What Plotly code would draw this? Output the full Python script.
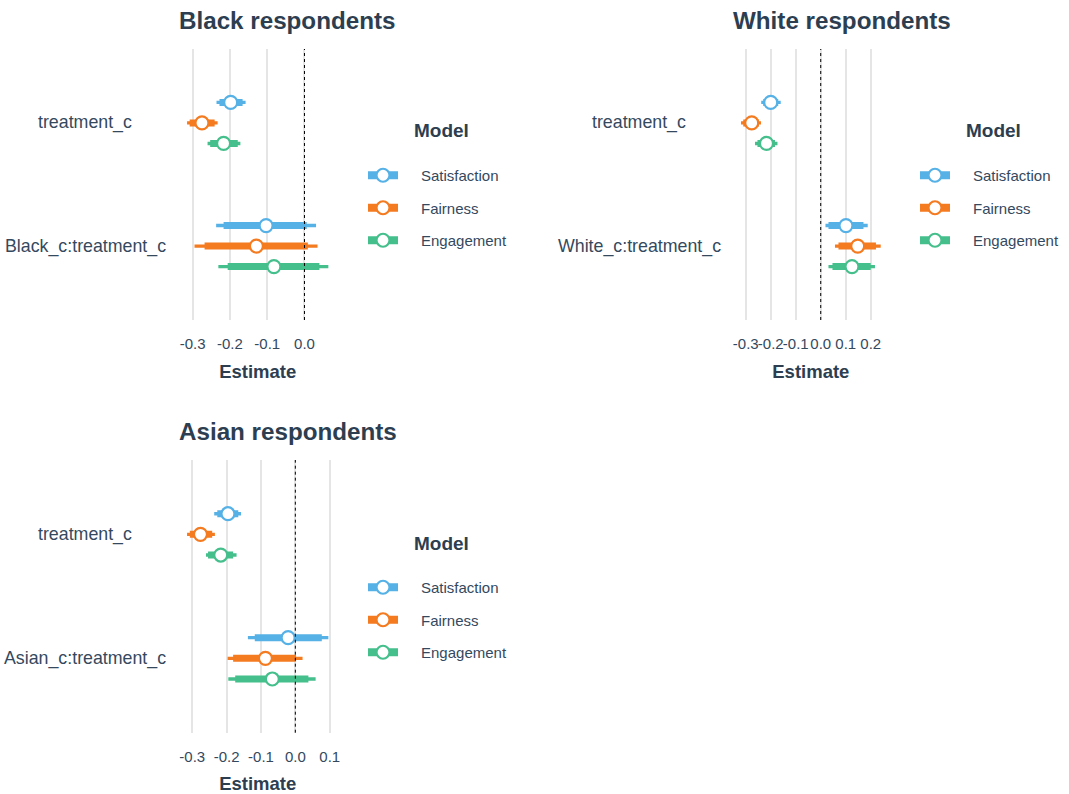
import plotly.graph_objects as go

# Models and their colours
models = ["Satisfaction", "Fairness", "Engagement"]
colors = ["#56B1E6", "#F47B20", "#45BF8C"]

# Term order within each panel: [treatment_c, <group>_c:treatment_c]
# Values listed per model in the order of `models`.

# Black respondents
black_est_treat = [-0.198, -0.275, -0.217]
black_lo95_treat = [-0.236, -0.315, -0.260]
black_hi95_treat = [-0.158, -0.233, -0.172]
black_lo90_treat = [-0.228, -0.308, -0.253]
black_hi90_treat = [-0.166, -0.241, -0.179]
black_est_inter = [-0.103, -0.129, -0.082]
black_lo95_inter = [-0.237, -0.295, -0.231]
black_hi95_inter = [0.031, 0.035, 0.064]
black_lo90_inter = [-0.217, -0.268, -0.206]
black_hi90_inter = [0.006, 0.009, 0.040]
black_ticks = [-0.3, -0.2, -0.1, 0.0]

# White respondents
white_est_treat = [-0.200, -0.276, -0.217]
white_lo95_treat = [-0.238, -0.319, -0.263]
white_hi95_treat = [-0.160, -0.239, -0.173]
white_lo90_treat = [-0.230, -0.310, -0.253]
white_hi90_treat = [-0.170, -0.247, -0.183]
white_est_inter = [0.101, 0.148, 0.125]
white_lo95_inter = [0.019, 0.057, 0.031]
white_hi95_inter = [0.188, 0.240, 0.217]
white_lo90_inter = [0.031, 0.071, 0.047]
white_hi90_inter = [0.171, 0.221, 0.200]
white_ticks = [-0.3, -0.2, -0.1, 0.0, 0.1, 0.2]

# Asian respondents
asian_est_treat = [-0.196, -0.276, -0.217]
asian_lo95_treat = [-0.236, -0.315, -0.260]
asian_hi95_treat = [-0.158, -0.234, -0.171]
asian_lo90_treat = [-0.227, -0.307, -0.254]
asian_hi90_treat = [-0.166, -0.242, -0.181]
asian_est_inter = [-0.021, -0.087, -0.067]
asian_lo95_inter = [-0.138, -0.197, -0.195]
asian_hi95_inter = [0.096, 0.021, 0.059]
asian_lo90_inter = [-0.118, -0.181, -0.175]
asian_hi90_inter = [0.077, 0.002, 0.038]
asian_ticks = [-0.3, -0.2, -0.1, 0.0, 0.1]

panels = [
    dict(title="Black respondents", term="Black_c:treatment_c", ticks=black_ticks,
         est=(black_est_treat, black_est_inter),
         lo95=(black_lo95_treat, black_lo95_inter), hi95=(black_hi95_treat, black_hi95_inter),
         lo90=(black_lo90_treat, black_lo90_inter), hi90=(black_hi90_treat, black_hi90_inter)),
    dict(title="White respondents", term="White_c:treatment_c", ticks=white_ticks,
         est=(white_est_treat, white_est_inter),
         lo95=(white_lo95_treat, white_lo95_inter), hi95=(white_hi95_treat, white_hi95_inter),
         lo90=(white_lo90_treat, white_lo90_inter), hi90=(white_hi90_treat, white_hi90_inter)),
    dict(title="Asian respondents", term="Asian_c:treatment_c", ticks=asian_ticks,
         est=(asian_est_treat, asian_est_inter),
         lo95=(asian_lo95_treat, asian_lo95_inter), hi95=(asian_hi95_treat, asian_hi95_inter),
         lo90=(asian_lo90_treat, asian_lo90_inter), hi90=(asian_hi90_treat, asian_hi90_inter)),
]

W, H = 1069, 794
TEXT = "#34495E"
TITLE = "#2C3E50"
FONT = "Liberation Sans, Arial, sans-serif"

# panel geometry in pixels: (left, right, top, bottom), legend origin (x, y), legend heading centre
geom = [
    ((180, 335.4, 49, 320), (363, 159), (441.5, 131)),
    ((734, 887.7, 49, 320), (915, 159), (993.5, 131)),
    ((180, 335.4, 460, 732.7), (363, 571), (441.5, 543)),
]

# dodge offsets for the three models around each term position
dodge = [1 / 6, 0.0, -1 / 6]
term_pos = [2, 1]  # treatment_c on top
KEY_PAD = "\u2002\u2002\u2009"  # spacing between legend key and label

fig = go.Figure()
layout = {}
annotations = []
shapes = []

for p_i, (panel, (box, leg, head)) in enumerate(zip(panels, geom)):
    sfx = "" if p_i == 0 else str(p_i + 1)
    xa, ya = "x" + sfx, "y" + sfx
    legend_name = "legend" + sfx
    left, right, top, bottom = box

    all_vals = [v for pair in (panel["lo95"], panel["hi95"]) for arr in pair for v in arr]
    lo, hi = min(all_vals), max(all_vals)
    span = hi - lo
    xrange = [lo - 0.05 * span, hi + 0.05 * span]

    for m_i, (model, col) in enumerate(zip(models, colors)):
        ys = [term_pos[t] + dodge[m_i] for t in range(2)]
        xs_thin, ys_thin, xs_thick, ys_thick = [], [], [], []
        for t in range(2):
            xs_thin += [panel["lo95"][t][m_i], panel["hi95"][t][m_i], None]
            ys_thin += [ys[t], ys[t], None]
            xs_thick += [panel["lo90"][t][m_i], panel["hi90"][t][m_i], None]
            ys_thick += [ys[t], ys[t], None]
        # outer (thin) interval
        fig.add_trace(go.Scatter(x=xs_thin, y=ys_thin, mode="lines", xaxis=xa, yaxis=ya,
                                 line=dict(color=col, width=3.4), showlegend=False,
                                 legendgroup=model + sfx, hoverinfo="skip"))
        # inner (thick) interval
        fig.add_trace(go.Scatter(x=xs_thick, y=ys_thick, mode="lines", xaxis=xa, yaxis=ya,
                                 line=dict(color=col, width=7), showlegend=False,
                                 legendgroup=model + sfx, hoverinfo="skip"))
        # point estimates
        fig.add_trace(go.Scatter(x=[panel["est"][t][m_i] for t in range(2)], y=ys,
                                 mode="markers", xaxis=xa, yaxis=ya, name=model,
                                 marker=dict(size=13, color="white", line=dict(color=col, width=2.2)),
                                 showlegend=False, legendgroup=model + sfx))
        # legend key: thick bar with open circle
        fig.add_trace(go.Scatter(x=[None], y=[None], mode="lines+markers", xaxis=xa, yaxis=ya,
                                 name=KEY_PAD + model, legend=legend_name, legendgroup=model + sfx,
                                 line=dict(color=col, width=8),
                                 marker=dict(size=13, color="white", line=dict(color=col, width=2.2))))

    layout["xaxis" + sfx] = dict(
        domain=[left / W, right / W], anchor=ya, range=xrange,
        tickvals=panel["ticks"], ticktext=[f"{v:.1f}" for v in panel["ticks"]], tickangle=0,
        showgrid=True, gridcolor="#E5E5E5", gridwidth=1.6,
        zeroline=False, showline=False, ticks="outside", ticklen=10, tickcolor="rgba(0,0,0,0)",
        tickfont=dict(size=15, color=TEXT, family=FONT),
        title=dict(text="Estimate", standoff=14,
                   font=dict(size=18.5, color=TITLE, family=FONT, weight="bold")),
        fixedrange=True,
    )
    layout["yaxis" + sfx] = dict(
        domain=[1 - bottom / H, 1 - top / H], anchor=xa, range=[0.4, 2.6],
        showgrid=False, zeroline=False, showticklabels=False, showline=False, fixedrange=True,
    )
    layout[legend_name] = dict(
        x=leg[0] / W, y=1 - leg[1] / H, xanchor="left", yanchor="top",
        font=dict(size=15, color=TEXT, family=FONT),
        itemwidth=30, tracegroupgap=10, bgcolor="rgba(0,0,0,0)",
    )
    # legend heading
    annotations.append(dict(text="Model", xref="paper", yref="paper",
                            x=head[0] / W, y=1 - head[1] / H, xanchor="center", yanchor="middle",
                            showarrow=False,
                            font=dict(size=19, color=TITLE, family=FONT, weight="bold")))

    # dashed reference line at zero
    shapes.append(dict(type="line", xref=xa, yref=ya + " domain", x0=0, x1=0, y0=0, y1=1,
                       line=dict(color="black", width=1, dash="3px,3px")))

    # panel title
    annotations.append(dict(text=panel["title"], xref="paper", yref="paper",
                            x=(left - 3) / W, y=1 - (top - 29) / H, xanchor="left", yanchor="middle",
                            showarrow=False,
                            font=dict(size=24.2, color=TITLE, family=FONT, weight="bold")))
    # term labels, centred in the space left of the panel
    label_cx = (left - 95) / W
    for t, term in enumerate(["treatment_c", panel["term"]]):
        annotations.append(dict(text=term, xref="paper", yref=ya, x=label_cx, y=term_pos[t],
                                xanchor="center", yanchor="middle", showarrow=False,
                                font=dict(size=17.8, color=TEXT, family=FONT)))

fig.update_layout(
    width=W, height=H, margin=dict(l=0, r=0, t=0, b=0, autoexpand=False),
    paper_bgcolor="white", plot_bgcolor="white",
    annotations=annotations, shapes=shapes, **layout,
)

fig.write_html("out.html")
